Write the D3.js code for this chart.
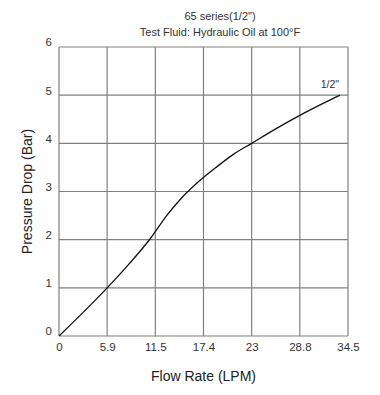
<!DOCTYPE html>
<html><head><meta charset="utf-8">
<script src="https://cdn.jsdelivr.net/npm/d3@7"></script>
<style>body{margin:0;background:#fff}svg{display:block}text{font-family:Arial,"Liberation Sans",sans-serif}</style>
</head><body>
<script>
const titleLines = ['65 series(1/2")', 'Test Fluid: Hydraulic Oil at 100°F'];
const xTicks = [0, 5.9, 11.5, 17.4, 23, 28.8, 34.5];
const yTicks = [0, 1, 2, 3, 4, 5, 6];
const flow = [0, 5.9, 8.17, 10.99, 12.89, 14.52, 16.57, 18.93, 20.87, 23, 26.0, 28.8, 33.55];
const drop = [0, 1.0, 1.44, 2.04, 2.50, 2.83, 3.17, 3.51, 3.77, 4.0, 4.31, 4.58, 5.0];
const seriesLabel = '1/2"';

const W = 380, H = 395;
const m = {left: 59, top: 47, right: 32, bottom: 59};
const w = W - m.left - m.right, h = H - m.top - m.bottom;
const svg = d3.select('body').append('svg').attr('width', W).attr('height', H);
const g = svg.append('g').attr('transform', `translate(${m.left},${m.top})`);

const x = d3.scaleLinear().domain(xTicks).range(xTicks.map((d, i) => i * w / (xTicks.length - 1)));
const y = d3.scaleLinear().domain([0, 6]).range([h, 0]);

// grid
g.append('g').selectAll('line').data(xTicks).join('line')
  .attr('x1', d => x(d)).attr('x2', d => x(d)).attr('y1', 0).attr('y2', h)
  .attr('stroke', '#808080').attr('stroke-width', 1.2);
g.append('g').selectAll('line').data(yTicks).join('line')
  .attr('y1', d => y(d)).attr('y2', d => y(d)).attr('x1', 0).attr('x2', w)
  .attr('stroke', '#808080').attr('stroke-width', 1.2);

// axes labels
const xa = g.append('g').attr('transform', `translate(0,${h})`)
  .call(d3.axisBottom(x).tickValues(xTicks).tickSize(0).tickPadding(7).tickFormat(d => String(d)));
xa.select('.domain').remove();
xa.selectAll('text').attr('font-size', 11.5).attr('fill', '#333').attr('font-family', 'Arial');
const ya = g.append('g')
  .call(d3.axisLeft(y).tickValues(yTicks).tickSize(0).tickPadding(7).tickFormat(d3.format('d')));
ya.select('.domain').remove();
ya.selectAll('text').attr('font-size', 11.5).attr('fill', '#333').attr('font-family', 'Arial').attr('dy', '-0.1em');

// curve
const data = flow.map((f, i) => [f, drop[i]]);
g.append('path').datum(data)
  .attr('d', d3.line().x(d => x(d[0])).y(d => y(d[1])).curve(d3.curveMonotoneX))
  .attr('fill', 'none').attr('stroke', '#111').attr('stroke-width', 1.3);

const last = data[data.length - 1];
g.append('text').attr('x', x(last[0]) - 1).attr('y', y(last[1]) - 7)
  .attr('text-anchor', 'end').attr('font-size', 10.5).attr('fill', '#333').text(seriesLabel);

// titles
svg.append('g').selectAll('text').data(titleLines).join('text')
  .attr('x', 220).attr('y', (d, i) => 20 + i * 16)
  .attr('text-anchor', 'middle').attr('font-size', 11).attr('fill', '#333').text(d => d);

svg.append('text').attr('x', m.left + w / 2).attr('y', 381)
  .attr('text-anchor', 'middle').attr('font-size', 14).attr('fill', '#222').text('Flow Rate (LPM)');
svg.append('text').attr('transform', `translate(32,${m.top + h / 2}) rotate(-90)`)
  .attr('text-anchor', 'middle').attr('font-size', 14).attr('fill', '#222').text('Pressure Drop (Bar)');
</script>
</body></html>
